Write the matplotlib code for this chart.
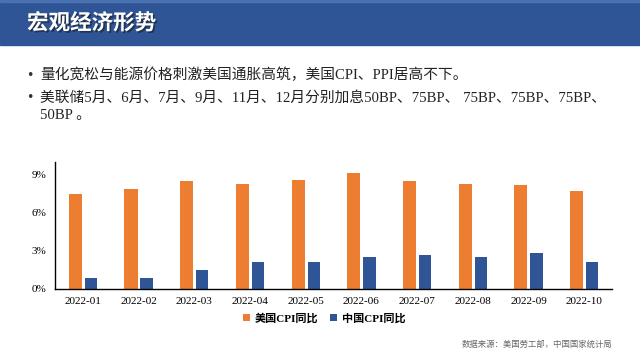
import matplotlib.pyplot as plt
import matplotlib.patches as mpatches
import matplotlib.patheffects as pe
import numpy as np

# --------------------------------------------------
# 数据
# --------------------------------------------------
months = ["2022-01", "2022-02", "2022-03", "2022-04", "2022-05",
          "2022-06", "2022-07", "2022-08", "2022-09", "2022-10"]
us_cpi = [7.5, 7.9, 8.5, 8.3, 8.6, 9.1, 8.5, 8.3, 8.2, 7.7]
cn_cpi = [0.9, 0.9, 1.5, 2.1, 2.1, 2.5, 2.7, 2.5, 2.8, 2.1]
yticks = [0, 3, 6, 9]

title = "宏观经济形势"
bullet1 = "量化宽松与能源价格刺激美国通胀高筑，美国CPI、PPI居高不下。"
bullet2 = "美联储5月、6月、7月、9月、11月、12月分别加息50BP、75BP、 75BP、75BP、75BP、"
bullet2b = "50BP 。"
source = "数据来源：美国劳工部，中国国家统计局"

ORANGE = "#ED7D31"
BLUE = "#2F5597"
FONT = ["Liberation Serif", "Noto Sans CJK SC"]

fig = plt.figure(figsize=(6.4, 3.6), dpi=100)

# 顶部标题栏
fig.patches.append(mpatches.Rectangle((0, 1 - 45 / 360), 1, 45 / 360,
                                      transform=fig.transFigure,
                                      color="#2F5597", zorder=0))
fig.patches.append(mpatches.Rectangle((0, 1 - 2 / 360), 1, 2 / 360,
                                      transform=fig.transFigure,
                                      color="#4A72B0", zorder=1))
fig.text(27 / 640, 1 - 23 / 360, title, color="white", fontsize=15.5,
         fontweight="bold", family=["Noto Sans CJK SC"], va="center",
         path_effects=[pe.withSimplePatchShadow(offset=(1.2, -1.2),
                                                shadow_rgbFace="#1a1a1a",
                                                alpha=0.6)])

# 要点
for y, txt, dot in [(75, bullet1, True), (98, bullet2, True), (115, bullet2b, False)]:
    if dot:
        fig.text(30 / 640, 1 - y / 360, "•", fontsize=9, color="#333333",
                 va="center", ha="center")
    fig.text(40 / 640, 1 - y / 360, txt, fontsize=10.6, color="#222222",
             family=FONT, va="center")

# --------------------------------------------------
# 柱状图
# --------------------------------------------------
ax = fig.add_axes([55 / 640, 1 - 289 / 360, 557 / 640, 127 / 360])
x = np.arange(len(months))
ax.bar(x - 0.135, us_cpi, width=0.235, color=ORANGE, label="美国CPI同比")
ax.bar(x + 0.145, cn_cpi, width=0.22, color=BLUE, label="中国CPI同比")

ax.set_xlim(-0.5, len(months) - 0.5)
ax.set_ylim(0, 10)
ax.set_yticks(yticks)
ax.set_yticklabels([f"{v}%" for v in yticks], family=FONT, fontsize=8)
ax.set_xticks(x)
ax.set_xticklabels(months, family=FONT, fontsize=8)
ax.tick_params(length=0, pad=6)
for s in ["top", "right"]:
    ax.spines[s].set_visible(False)
ax.spines["left"].set_linewidth(1.0)
ax.spines["bottom"].set_linewidth(1.0)

leg = fig.legend(loc="center", bbox_to_anchor=(324 / 640, 1 - 318 / 360),
                 ncol=2, frameon=False, handlelength=0.7, handleheight=0.7,
                 handletextpad=0.4, columnspacing=1.0,
                 prop={"family": FONT, "size": 8, "weight": "bold"})

fig.text(612 / 640, 1 - 345 / 360, source, fontsize=6, color="#666666",
         family=FONT, ha="right", va="center")

fig.savefig("out.png", dpi=100)
